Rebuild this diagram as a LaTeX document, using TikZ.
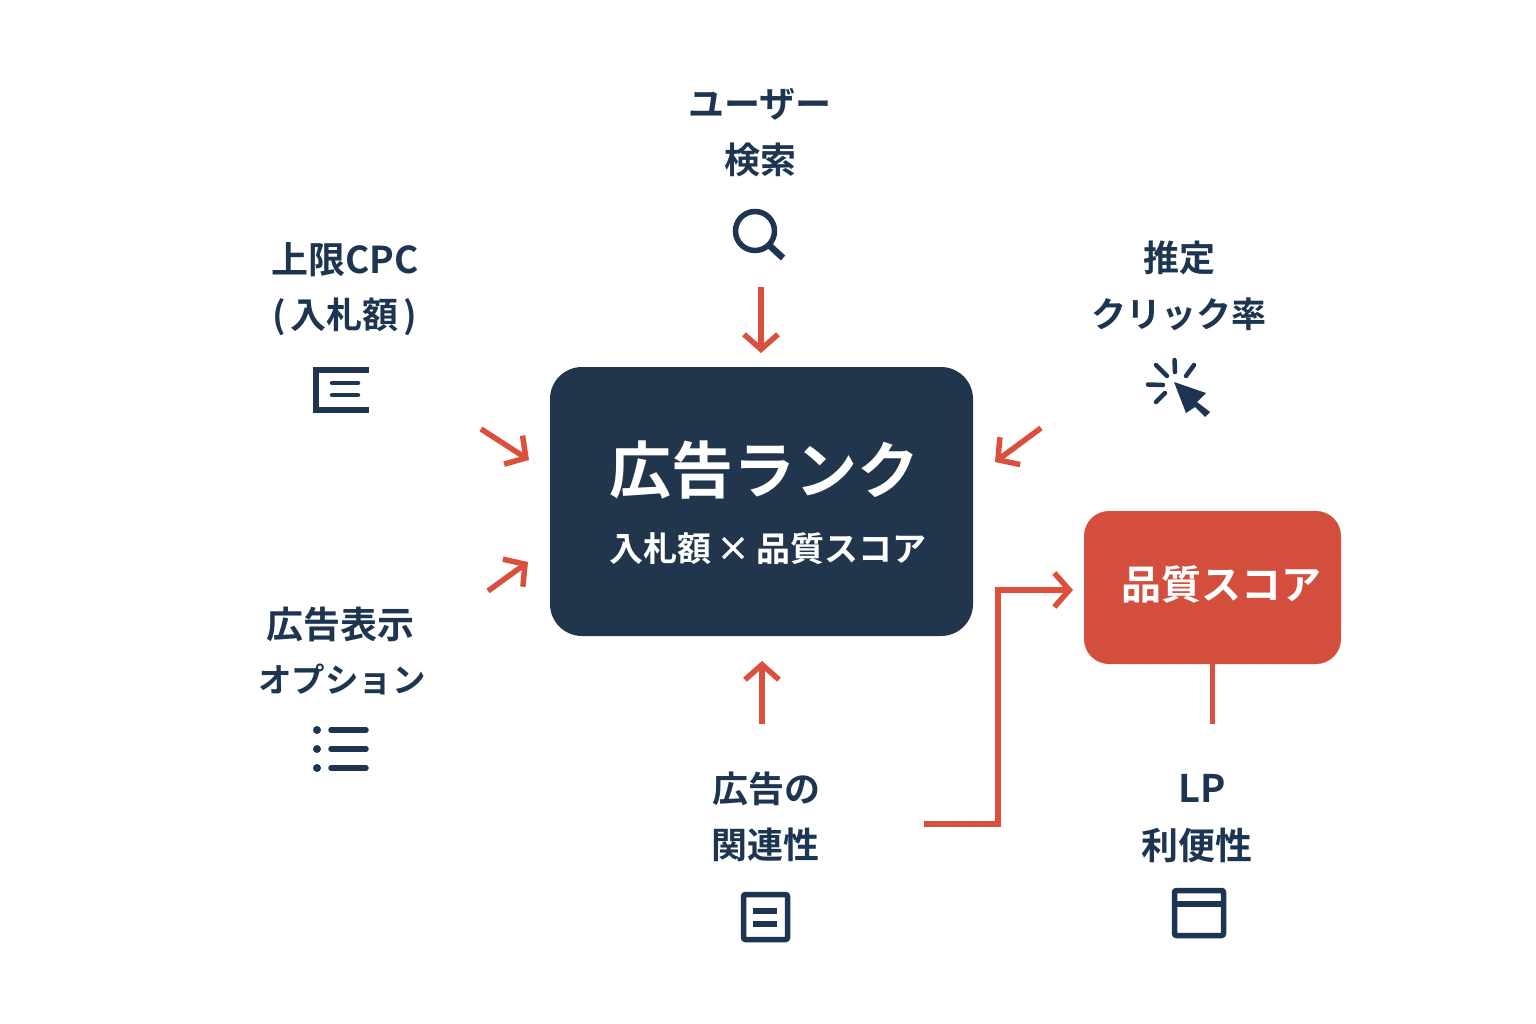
\documentclass[tikz,border=0pt]{standalone}
\usepackage{fontspec}
\usetikzlibrary{arrows.meta}
\newfontfamily\jpb{Noto Sans CJK JP Bold}
\newcommand{\lblsize}[1]{\fontsize{#1}{#1}\selectfont}
\definecolor{navy}{HTML}{21364D}
\definecolor{ink}{HTML}{1D3550}
\definecolor{redbox}{HTML}{D34E3D}
\definecolor{redline}{HTML}{DB4F3C}
\tikzset{
  lbl/.style={inner sep=0pt,text=ink,font=\jpb\lblsize{36}},
  flow/.style={draw=redline,line width=5.5pt,-{Straight Barb[length=15pt,width=34pt,line width=5.5pt]}},
  plainflow/.style={draw=redline,line width=5.5pt},
  icon/.style={draw=ink,line width=5.5pt},
  iconthin/.style={draw=ink,line width=4.5pt,line cap=round},
  mainbox/.style={fill=navy,rounded corners=32pt,minimum width=423pt,minimum height=269pt,inner sep=0pt},
  scorebox/.style={fill=redbox,rounded corners=25pt,minimum width=257pt,minimum height=153pt,inner sep=0pt}
}
\begin{document}
\begin{tikzpicture}[x=1pt,y=-1pt]
\useasboundingbox (0,0) rectangle (1536,1024);
\fill[white] (0,0) rectangle (1536,1024);
% boxes
\node[mainbox] (rank) at (761.5,501.5) {};
\node[scorebox] (score) at (1212.5,587.5) {};
\node[inner sep=0pt,text=white,font=\jpb\lblsize{62}] (ranktitle) at (764.5,470) {広告ランク};
\node[inner sep=0pt,text=white,font=\jpb\lblsize{34}] (ranksub) at (768,549) {入札額\hspace{6pt}×\hspace{6pt}品質スコア};
\node[inner sep=0pt,text=white,font=\jpb\lblsize{40}] (scorelabel) at (1221,584) {品質スコア};
% labels
\node[lbl] (user) at (760,104) {ユーザー};
\node[lbl] (search) at (760,160) {検索};
\node[lbl,font=\jpb\lblsize{37}] (cpc) at (345,260) {上限CPC};
\node[lbl] (bid) at (345,317) {(\hspace{5pt}入札額\hspace{5pt})};
\node[lbl] (est) at (1179,258) {推定};
\node[lbl,font=\jpb\lblsize{35}] (ctr) at (1179,314) {クリック率};
\node[lbl,font=\jpb\lblsize{37}] (ext) at (340,624) {広告表示};
\node[lbl,font=\jpb\lblsize{33.5}] (opt) at (342,679) {オプション};
\node[lbl] (adof) at (766,789) {広告の};
\node[lbl] (rel) at (765,845) {関連性};
\node[lbl,font=\jpb\lblsize{38}] (lp) at (1202,788) {LP};
\node[lbl,font=\jpb\lblsize{37}] (conv) at (1197,845) {利便性};
% connector ends
\coordinate (t0) at (761,287); \coordinate (t1) at (761,353);
\coordinate (ul0) at (481,429); \coordinate (ul1) at (529,460);
\coordinate (ur0) at (1041,428); \coordinate (ur1) at (995,462);
\coordinate (ll0) at (488,591); \coordinate (ll1) at (528,562);
\coordinate (b0) at (762,724); \coordinate (b1) at (762,661);
\coordinate (e0) at (924,824); \coordinate (e1) at (998,824); \coordinate (e2) at (998,590); \coordinate (e3) at (1073,590);
\coordinate (lpline) at (1212.5,724);
% connectors
\draw[flow] (t0) -- (t1);
\draw[flow] (ul0) -- (ul1);
\draw[flow] (ur0) -- (ur1);
\draw[flow] (ll0) -- (ll1);
\draw[flow] (b0) -- (b1);
\draw[flow] (e0) -- (e1) -- (e2) -- (e3);
\draw[plainflow] (score.south) -- (lpline);
% search icon
\draw[icon] (755,231) circle (19.5);
\draw[icon,line width=6.5pt] (770,246) -- (783,258);
% bid icon
\draw[icon] (369,370) -- (316,370) -- (316,410) -- (369,410);
\draw[iconthin] (332,383) -- (358,383);
\draw[iconthin] (332,395) -- (358,395);
% click icon
\fill[ink] (1174,382) -- (1206,393) -- (1197,402) -- (1210,412) -- (1205,417) -- (1195,407) -- (1186,413) -- cycle;
\draw[iconthin] (1174.5,360) -- (1175,372);
\draw[iconthin] (1156,365) -- (1167,376);
\draw[iconthin] (1194,365) -- (1186,376);
\draw[iconthin] (1148,384.5) -- (1163,385);
\draw[iconthin] (1156,402) -- (1165,393);
% list icon
\fill[ink] (317,730) circle (4) (317,749) circle (4) (317,768) circle (4);
\draw[icon,line cap=round] (331,730) -- (366,730);
\draw[icon,line cap=round] (331,749) -- (366,749);
\draw[icon,line cap=round] (331,768) -- (366,768);
% doc icon
\draw[icon,rounded corners=2pt] (743.5,894.5) rectangle (787.5,939.5);
\draw[icon] (753,911) -- (777,911);
\draw[icon] (753,924) -- (777,924);
% window icon
\draw[icon,rounded corners=2pt] (1174.5,890.5) rectangle (1223.5,935.5);
\draw[icon] (1174.5,904) -- (1223.5,904);
\end{tikzpicture}
\end{document}
